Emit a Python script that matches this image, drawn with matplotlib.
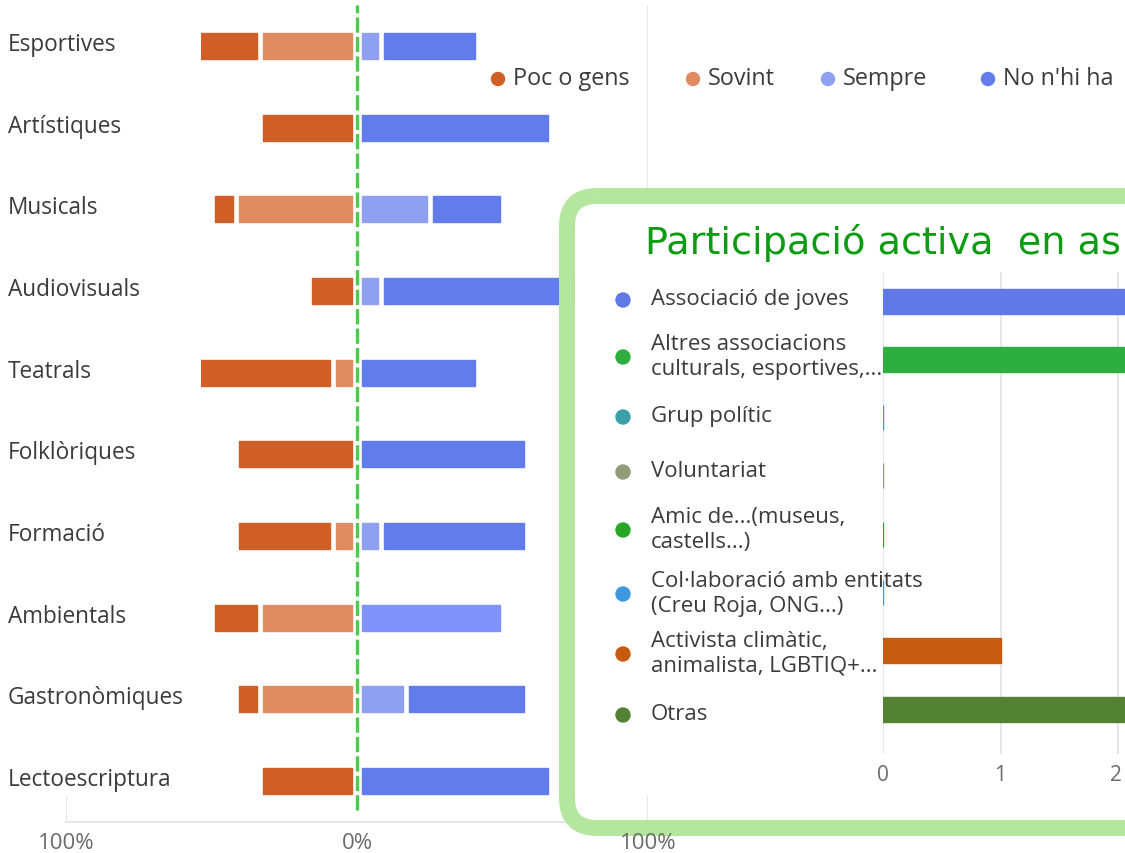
import matplotlib
matplotlib.use("Agg")
import matplotlib.pyplot as plt
from matplotlib.patches import Rectangle, FancyBboxPatch
from matplotlib.transforms import Affine2D

# ---------------- data ----------------
categories = ["Esportives", "Artístiques", "Musicals", "Audiovisuals", "Teatrals",
              "Folklòriques", "Formació", "Ambientals", "Gastronòmiques", "Lectoescriptura"]
series_names = ["Poc o gens", "Sovint", "Sempre", "No n'hi ha"]
# shares (fraction of respondents, 12 respondents)
poc_o_gens = [3/12, 4/12, 1/12, 2/12, 6/12, 5/12, 4/12, 2/12, 1/12, 4/12]
sovint     = [4/12, 0,    5/12, 0,    1/12, 0,    1/12, 4/12, 4/12, 0]
sempre     = [1/12, 0,    3/12, 1/12, 0,    0,    1/12, 0,    2/12, 0]
no_nhi_ha  = [4/12, 8/12, 3/12, 9/12, 5/12, 7/12, 6/12, 6/12, 5/12, 8/12]
main_ticks = [-1, 0, 1]
main_ticklabels = ["100%", "0%", "100%"]

assoc_labels = ["Associació de joves", "Altres associacions\nculturals, esportives,...",
                "Grup polític", "Voluntariat", "Amic de...(museus,\ncastells...)",
                "Col·laboració amb entitats\n(Creu Roja, ONG...)",
                "Activista climàtic,\nanimalista, LGBTIQ+...", "Otras"]
assoc_values = [3, 3, 0, 0, 0, 0, 1, 3]
assoc_ticks = [0, 1, 2]
inset_title = "Participació activa  en as"

# ---------------- style ----------------
W, H = 1125, 854
FONT = ["Open Sans", "DejaVu Sans"]
plt.rcParams["font.family"] = FONT
plt.rcParams["lines.scale_dashes"] = False
series_colors = ["#d05f27", "#e08b62", "#8fa0f1", "#627cec"]
highlight = {(7, 3): "#7f93fa"}  # hovered segment appears lighter
assoc_colors = ["#6079e6", "#2eae3e", "#3aa0a8", "#909c7a", "#27a627",
                "#3d98df", "#c55a11", "#548235"]
text_col = "#3b3b3b"
tick_col = "#6b6b6b"

fig = plt.figure(figsize=(W / 100, H / 100), dpi=100)
fig.patch.set_facecolor("white")

def fx(x):
    return x / W

def fy(y):
    return 1 - y / H

pix = Affine2D().scale(1 / 100.0, -1 / 100.0).translate(0, H / 100.0) + fig.dpi_scale_trans

# ---------------- main diverging chart ----------------
top, bottom = 6, 823
ax = fig.add_axes([fx(66), fy(bottom), fx(648) - fx(66), (bottom - top) / H])
ax.set_xlim(-1, 1)
ax.set_ylim(len(categories) - 0.5, -0.5)
ax.axis("off")

ppx = 2 / (648 - 66)  # data units per pixel
bh = 26 / 81.7
inset0 = 5 * ppx
inset = 3 * ppx

for i in range(len(categories)):
    segs = []
    a = 0
    for s, vals in ((1, sovint), (0, poc_o_gens)):
        v = vals[i]
        if v > 0:
            segs.append((s, -(a + v), -a))
        a += v
    a = 0
    for s, vals in ((2, sempre), (3, no_nhi_ha)):
        v = vals[i]
        if v > 0:
            segs.append((s, a, a + v))
        a += v
    for s, lo, hi in segs:
        l = lo + (inset0 if abs(lo) < 1e-9 else inset)
        r = hi - (inset0 if abs(hi) < 1e-9 else inset)
        col = highlight.get((i, s), series_colors[s])
        ax.barh(i, r - l, left=l, height=bh, color=col, edgecolor=col,
                linewidth=1.0, joinstyle="round", zorder=3)

ax.axvline(1, color="#e3e3e3", lw=1.2, zorder=1)
ax.axvline(-1, color="#e3e3e3", lw=1.2, zorder=1)
ax.axhline(len(categories) - 0.5, color="#e3e3e3", lw=1.2, zorder=1, clip_on=False)
ax.axvline(0, ymin=(bottom - 811) / (bottom - top), ymax=1, color="#4ccb4c", lw=2.4,
           linestyle=(0, (11, 3)), zorder=4)

for t, lab in zip(main_ticks, main_ticklabels):
    xpix = 357 + t * 291
    fig.text(fx(xpix), fy(844), lab, ha="center", va="center", fontsize=16,
             color=tick_col)

# white label column (clips the long bars on the left)
fig.add_artist(Rectangle((0, 0), 201, 797, transform=pix, facecolor="white",
                         edgecolor="none", zorder=1))
for i, c in enumerate(categories):
    yc = top + (i + 0.5) * (bottom - top) / len(categories)
    fig.text(fx(8), fy(yc - 2), c, ha="left", va="center", fontsize=16.3,
             color=text_col, zorder=2)

# legend
leg_x = [498, 693, 828, 988]
for x, name, col in zip(leg_x, series_names, series_colors):
    fig.add_artist(plt.Circle((x, 80), 6.5, transform=pix, color=col, zorder=2))
    fig.text(fx(x + 15), fy(79), name, ha="left", va="center", fontsize=16.8,
             color=text_col, zorder=2)

# ---------------- inset chart ----------------
fig.add_artist(Rectangle((575, 205), 600, 592, transform=pix, facecolor="white",
                         edgecolor="none", zorder=1.2))
fig.add_artist(FancyBboxPatch((567, 197), 700, 632, transform=pix,
                              boxstyle="round,pad=0,rounding_size=30",
                              facecolor="none", edgecolor="#b4e6a0", linewidth=11.5,
                              zorder=1.5))

fig.text(fx(645), fy(243), inset_title, ha="left", va="center", fontsize=27.5,
         color="#0c9c12", family=["DejaVu Sans"], zorder=3)

band = 58.3
itop = 302 - band / 2
ibot = 755
upx = 117.5
ax2 = fig.add_axes([fx(883), fy(ibot), 3 * upx / W, (ibot - itop) / H])
ax2.set_facecolor("none")
ax2.set_zorder(2)
ax2.set_ylim(-0.5 + (ibot - itop) / band, -0.5)
ax2.set_xlim(0, 3)
ax2.axis("off")
for t in assoc_ticks:
    ax2.axvline(t, color="#e3e3e3", lw=1.2, zorder=0)
    fig.text(fx(883 + t * upx - (2 if t == 2 else 0)), fy(776), str(t), ha="center",
             va="center", fontsize=15, color=tick_col, zorder=3)
for i, (v, col) in enumerate(zip(assoc_values, assoc_colors)):
    ax2.barh(i, v, height=25 / band, color=col, edgecolor=col, linewidth=1.0,
             joinstyle="round", zorder=3)

label_y = [301, 358, 418, 473, 531, 595, 655, 716]
for yv, lab, col in zip(label_y, assoc_labels, assoc_colors):
    fig.add_artist(plt.Circle((623, yv), 7, transform=pix, color=col, zorder=3))
    fig.text(fx(651), fy(yv - 1), lab, ha="left", va="center", fontsize=16, color=text_col,
             linespacing=1.2, zorder=3)

fig.savefig("out.png", dpi=100, facecolor="white")
